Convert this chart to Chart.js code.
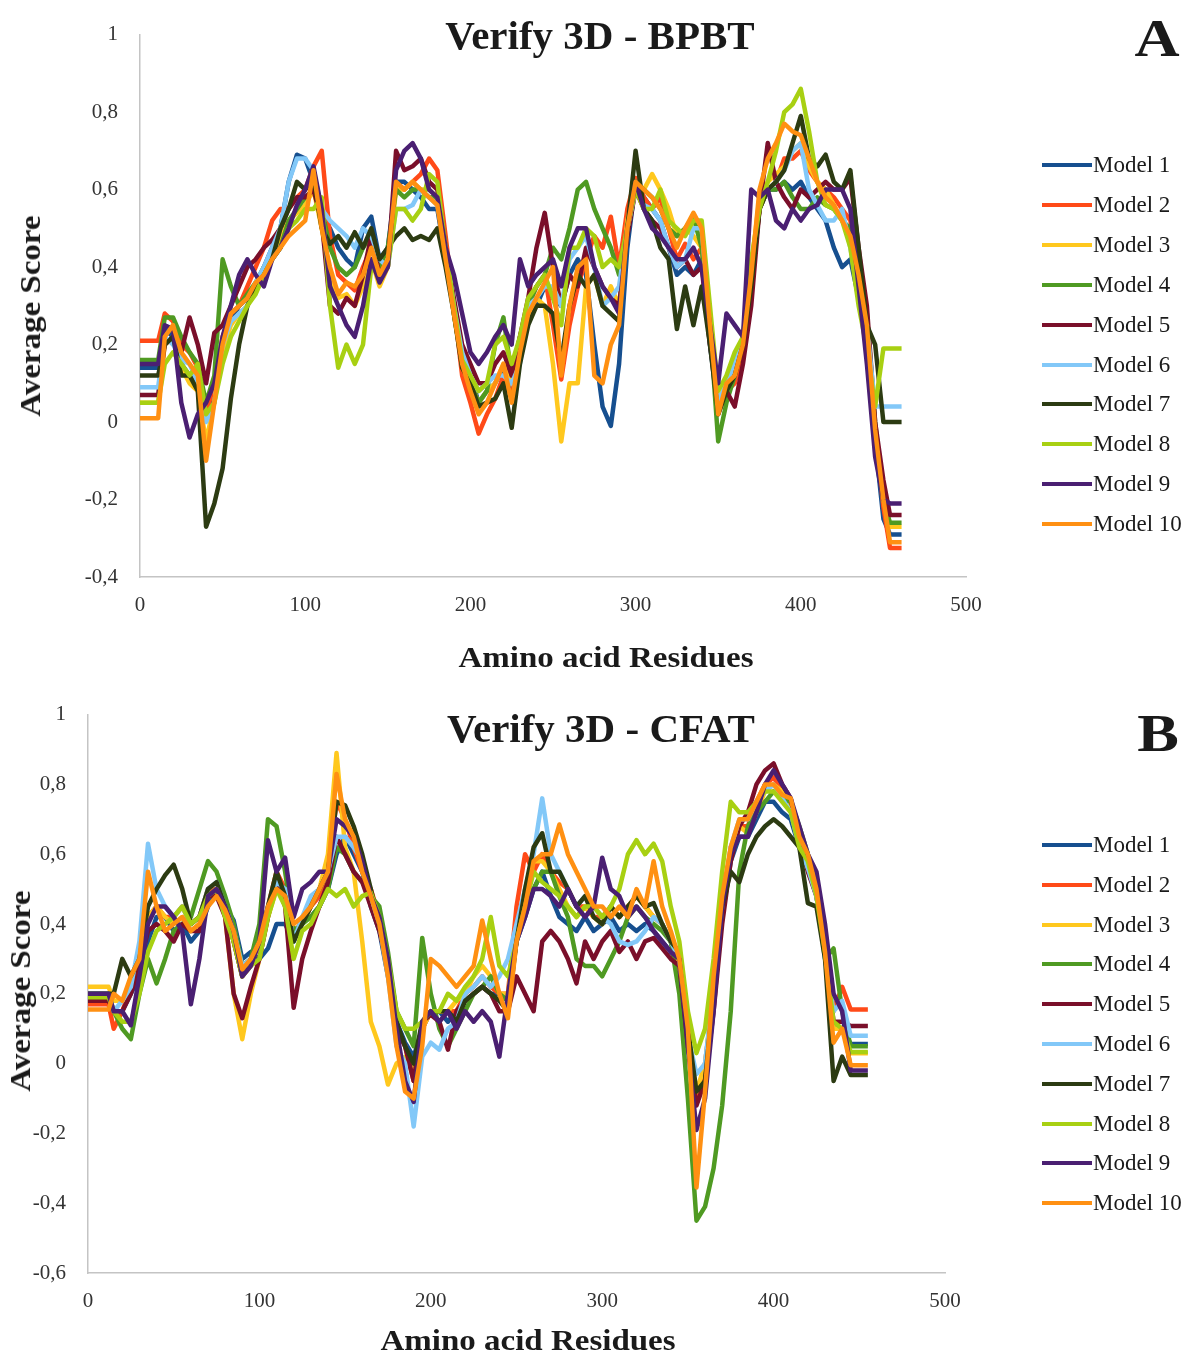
<!DOCTYPE html>
<html>
<head>
<meta charset="utf-8">
<script src="https://cdn.jsdelivr.net/npm/chart.js@4.4.0/dist/chart.umd.min.js"></script>
<style>
    body { margin: 0; background: #fff; }
    #page { position: relative; width: 1192px; height: 1358px; font-family: "Liberation Serif", "Times New Roman", serif; color: #1a1a1a; }
    .panel { position: absolute; left: 0; }
    .txt { position: absolute; transform: translate(-50%, -50%); white-space: nowrap; font-weight: bold; }
    .title { font-size: 41px; }
    .tag { font-size: 52px; transform: translate(-50%, -50%) scaleX(1.2); }
    .axis { font-size: 30px; transform: translate(-50%, -50%) scaleX(1.1); }
    .ytitle { transform: translate(-50%, -50%) rotate(-90deg) scaleX(1.1); }
    .legend-item { position: absolute; left: 1042px; transform: translateY(-50%); display: flex; align-items: center; font-size: 23px; white-space: nowrap; }
    .legend-item span { display: inline-block; width: 50px; height: 4px; margin-right: 1px; }
</style>
</head>
<body>
<div id="page">
    <canvas id="chartA" class="panel" width="1192" height="680" style="top:0"></canvas>
    <canvas id="chartB" class="panel" width="1192" height="678" style="top:680px"></canvas>

    <div class="txt title" style="left:600px; top:35px">Verify 3D - BPBT</div>
    <div class="txt tag" style="left:1157px; top:38px">A</div>
    <div class="txt axis ytitle" style="left:30px; top:316px">Average Score</div>
    <div class="txt axis" style="left:606px; top:657px">Amino acid Residues</div>

    <div class="txt title" style="left:601px; top:728px">Verify 3D - CFAT</div>
    <div class="txt tag" style="left:1158px; top:733px">B</div>
    <div class="txt axis ytitle" style="left:20px; top:991px">Average Score</div>
    <div class="txt axis" style="left:528px; top:1340px">Amino acid Residues</div>
</div>

<script>
// Series names and colours
const modelNames = ['Model 1', 'Model 2', 'Model 3', 'Model 4', 'Model 5',
                    'Model 6', 'Model 7', 'Model 8', 'Model 9', 'Model 10'];
const modelColors = ['#164f8f', '#ff4a18', '#ffc81e', '#4f9a22', '#7a0f2a',
                     '#82c8f8', '#2c3b12', '#a8d012', '#4a1f72', '#ff9012'];

// Panel A - BPBT (residue positions, then one row of 10 values per line)
const residuesA = [0, 11, 15, 20, 25, 30, 35, 40, 45, 50,
                   55, 60, 65, 70, 75, 80, 85, 90, 95, 100,
                   105, 110, 115, 120, 125, 130, 135, 140, 145, 150,
                   155, 160, 165, 170, 175, 180, 185, 190, 195, 200,
                   205, 210, 215, 220, 225, 230, 235, 240, 245, 250,
                   255, 260, 265, 270, 275, 280, 285, 290, 295, 300,
                   305, 310, 315, 320, 325, 330, 335, 340, 345, 350,
                   355, 360, 365, 370, 375, 380, 385, 390, 395, 400,
                   405, 410, 415, 420, 425, 430, 435, 440, 445, 450,
                   454, 461];
const bpbt1 = [0.14, 0.14, 0.24, 0.22, 0.15, 0.12, 0.1, 0.04, 0.06, 0.2,
               0.26, 0.3, 0.32, 0.35, 0.4, 0.45, 0.5, 0.62, 0.69, 0.68,
               0.62, 0.52, 0.5, 0.45, 0.42, 0.4, 0.5, 0.53, 0.42, 0.45,
               0.62, 0.62, 0.6, 0.58, 0.55, 0.55, 0.42, 0.3, 0.18, 0.12,
               0.05, 0.08, 0.1, 0.14, 0.06, 0.18, 0.28, 0.3, 0.35, 0.32,
               0.3, 0.38, 0.42, 0.38, 0.2, 0.04, -0.01, 0.15, 0.45, 0.62,
               0.58, 0.55, 0.52, 0.45, 0.38, 0.4, 0.38, 0.42, 0.2, 0.03,
               0.08, 0.12, 0.2, 0.38, 0.55, 0.6, 0.6, 0.62, 0.6, 0.62,
               0.58, 0.55, 0.52, 0.45, 0.4, 0.42, 0.32, 0.2, -0.05, -0.25,
               -0.29, -0.29];
const bpbt2 = [0.21, 0.21, 0.28, 0.26, 0.2, 0.18, 0.14, 0.02, 0.1, 0.22,
               0.28, 0.3, 0.35, 0.4, 0.45, 0.52, 0.55, 0.55, 0.58, 0.6,
               0.66, 0.7, 0.48, 0.38, 0.36, 0.34, 0.4, 0.45, 0.38, 0.4,
               0.62, 0.6, 0.62, 0.64, 0.68, 0.65, 0.48, 0.3, 0.12, 0.05,
               -0.03, 0.02, 0.06, 0.12, 0.06, 0.2, 0.3, 0.35, 0.38, 0.25,
               0.11, 0.25, 0.35, 0.42, 0.48, 0.45, 0.53, 0.4, 0.55, 0.63,
               0.58, 0.55, 0.58, 0.5, 0.42, 0.46, 0.42, 0.45, 0.25, 0.02,
               0.08, 0.1, 0.18, 0.35, 0.55, 0.6, 0.62, 0.68, 0.68, 0.7,
               0.65, 0.62, 0.6, 0.58, 0.55, 0.52, 0.4, 0.25, -0.02, -0.22,
               -0.325, -0.325];
const bpbt3 = [0.05, 0.05, 0.2, 0.22, 0.14, 0.1, 0.08, -0.05, 0.05, 0.18,
               0.25, 0.28, 0.3, 0.35, 0.38, 0.42, 0.48, 0.52, 0.54, 0.56,
               0.6, 0.5, 0.38, 0.32, 0.33, 0.3, 0.35, 0.42, 0.35, 0.4,
               0.6, 0.6, 0.62, 0.6, 0.6, 0.58, 0.42, 0.28, 0.15, 0.1,
               0.05, 0.08, 0.1, 0.15, 0.1, 0.2, 0.28, 0.32, 0.3, 0.15,
               -0.05, 0.1, 0.1, 0.35, 0.38, 0.3, 0.35, 0.3, 0.52, 0.62,
               0.6, 0.64, 0.6, 0.55, 0.48, 0.5, 0.48, 0.45, 0.25, 0.05,
               0.1, 0.15, 0.22, 0.4, 0.58, 0.62, 0.64, 0.66, 0.7, 0.72,
               0.66, 0.62, 0.6, 0.56, 0.52, 0.48, 0.36, 0.24, -0.05, -0.2,
               -0.27, -0.27];
const bpbt4 = [0.16, 0.16, 0.27, 0.27, 0.22, 0.18, 0.15, 0.05, 0.12, 0.42,
               0.35, 0.3, 0.33, 0.36, 0.4, 0.42, 0.45, 0.52, 0.55, 0.58,
               0.6, 0.55, 0.45, 0.4, 0.38, 0.4, 0.45, 0.48, 0.4, 0.45,
               0.6, 0.58, 0.6, 0.6, 0.58, 0.58, 0.45, 0.28, 0.15, 0.1,
               0.05, 0.08, 0.2, 0.27, 0.12, 0.22, 0.3, 0.35, 0.38, 0.45,
               0.42, 0.5, 0.6, 0.62, 0.55, 0.5, 0.45, 0.38, 0.5, 0.62,
               0.6, 0.58, 0.55, 0.5, 0.48, 0.5, 0.53, 0.45, 0.25, -0.05,
               0.05, 0.12, 0.22, 0.38, 0.55, 0.6, 0.6, 0.62, 0.58, 0.55,
               0.55, 0.58, 0.56, 0.55, 0.52, 0.5, 0.4, 0.28, 0.0, -0.2,
               -0.26, -0.26];
const bpbt5 = [0.07, 0.07, 0.2, 0.22, 0.18, 0.27, 0.2, 0.1, 0.23, 0.25,
               0.3, 0.35, 0.4, 0.42, 0.45, 0.47, 0.5, 0.55, 0.58, 0.58,
               0.6, 0.52, 0.3, 0.28, 0.32, 0.3, 0.38, 0.48, 0.38, 0.4,
               0.7, 0.65, 0.66, 0.68, 0.62, 0.6, 0.45, 0.32, 0.2, 0.15,
               0.1, 0.1, 0.15, 0.18, 0.12, 0.22, 0.32, 0.45, 0.54, 0.4,
               0.3, 0.38, 0.35, 0.45, 0.4, 0.35, 0.32, 0.3, 0.48, 0.6,
               0.55, 0.52, 0.5, 0.45, 0.4, 0.42, 0.38, 0.4, 0.2, 0.05,
               0.08, 0.04, 0.15, 0.3, 0.55, 0.72, 0.62, 0.58, 0.55, 0.6,
               0.58, 0.6, 0.62, 0.6, 0.6, 0.63, 0.45, 0.3, 0.0, -0.15,
               -0.24, -0.24];
const bpbt6 = [0.09, 0.09, 0.22, 0.2, 0.16, 0.15, 0.1, 0.0, 0.05, 0.2,
               0.26, 0.28, 0.3, 0.36, 0.4, 0.45, 0.5, 0.62, 0.68, 0.68,
               0.65, 0.55, 0.52, 0.5, 0.48, 0.45, 0.5, 0.48, 0.42, 0.4,
               0.55, 0.55, 0.56, 0.6, 0.58, 0.56, 0.45, 0.3, 0.18, 0.12,
               0.08, 0.1, 0.12, 0.12, 0.1, 0.15, 0.3, 0.32, 0.35, 0.35,
               0.3, 0.42, 0.45, 0.48, 0.4, 0.3, 0.32, 0.35, 0.5, 0.6,
               0.56, 0.55, 0.52, 0.45, 0.4, 0.42, 0.5, 0.5, 0.25, 0.05,
               0.1, 0.15, 0.22, 0.38, 0.56, 0.6, 0.62, 0.65, 0.7, 0.72,
               0.6, 0.56, 0.52, 0.52, 0.55, 0.45, 0.32, 0.25, 0.04, 0.04,
               0.04, 0.04];
const bpbt7 = [0.12, 0.12, 0.2, 0.22, 0.12, 0.12, 0.08, -0.27, -0.21, -0.12,
               0.06, 0.2, 0.3, 0.35, 0.38, 0.42, 0.5, 0.55, 0.62, 0.6,
               0.63, 0.5, 0.46, 0.48, 0.45, 0.49, 0.45, 0.5, 0.42, 0.45,
               0.48, 0.5, 0.47, 0.48, 0.47, 0.5, 0.4, 0.28, 0.14, 0.1,
               0.04, 0.05, 0.06, 0.1, -0.015, 0.15, 0.25, 0.3, 0.3, 0.28,
               0.16, 0.3, 0.38, 0.35, 0.38, 0.3, 0.28, 0.26, 0.5, 0.7,
               0.55, 0.52, 0.45, 0.42, 0.24, 0.35, 0.25, 0.35, 0.2, 0.02,
               0.08, 0.12, 0.2, 0.35, 0.55, 0.6, 0.62, 0.65, 0.72, 0.79,
               0.68, 0.66, 0.69, 0.62, 0.6, 0.65, 0.45, 0.25, 0.2, 0.0,
               0.0, 0.0];
const bpbt8 = [0.05, 0.05, 0.15, 0.18, 0.15, 0.12, 0.15, 0.02, 0.05, 0.15,
               0.22, 0.26, 0.3, 0.33, 0.38, 0.42, 0.45, 0.5, 0.52, 0.55,
               0.55, 0.58, 0.3, 0.14, 0.2, 0.15, 0.2, 0.4, 0.38, 0.4,
               0.55, 0.55, 0.52, 0.55, 0.64, 0.62, 0.45, 0.3, 0.16, 0.12,
               0.08, 0.1, 0.2, 0.22, 0.15, 0.22, 0.32, 0.35, 0.38, 0.32,
               0.25, 0.45, 0.45, 0.5, 0.48, 0.4, 0.42, 0.4, 0.5, 0.6,
               0.55, 0.55, 0.6, 0.52, 0.5, 0.48, 0.52, 0.52, 0.3, 0.08,
               0.12, 0.18, 0.22, 0.42, 0.55, 0.62, 0.7, 0.8, 0.82, 0.86,
               0.75, 0.62, 0.56, 0.55, 0.52, 0.45, 0.3, 0.19, 0.04, 0.19,
               0.19, 0.19];
const bpbt9 = [0.15, 0.15, 0.25, 0.24, 0.05, -0.04, 0.02, 0.05, 0.1, 0.22,
               0.3, 0.38, 0.42, 0.38, 0.35, 0.42, 0.45, 0.5, 0.56, 0.6,
               0.66, 0.55, 0.35, 0.3, 0.25, 0.22, 0.3, 0.42, 0.36, 0.4,
               0.65, 0.7, 0.72, 0.68, 0.6, 0.58, 0.45, 0.38, 0.28, 0.18,
               0.15, 0.18, 0.22, 0.25, 0.2, 0.42, 0.35, 0.38, 0.4, 0.42,
               0.35, 0.45, 0.5, 0.5, 0.4, 0.35, 0.32, 0.28, 0.5, 0.62,
               0.55, 0.5, 0.48, 0.45, 0.42, 0.42, 0.45, 0.4, 0.25, 0.1,
               0.28, 0.25, 0.22, 0.6, 0.58, 0.6, 0.52, 0.5, 0.55, 0.52,
               0.55, 0.56, 0.6, 0.6, 0.6, 0.55, 0.35, 0.15, -0.09, -0.2,
               -0.21, -0.21];
const bpbt10 = [0.01, 0.01, 0.22, 0.25, 0.18, 0.15, 0.12, -0.1, 0.05, 0.2,
                0.28, 0.3, 0.32, 0.36, 0.38, 0.42, 0.45, 0.48, 0.5, 0.52,
                0.65, 0.5, 0.4, 0.33, 0.36, 0.35, 0.38, 0.45, 0.38, 0.42,
                0.62, 0.6, 0.62, 0.6, 0.58, 0.56, 0.42, 0.28, 0.15, 0.08,
                0.02, 0.05, 0.1, 0.15, 0.05, 0.18, 0.28, 0.32, 0.36, 0.4,
                0.12, 0.3, 0.4, 0.42, 0.12, 0.1, 0.2, 0.25, 0.5, 0.62,
                0.6, 0.58, 0.55, 0.5, 0.45, 0.5, 0.54, 0.5, 0.25, 0.02,
                0.1, 0.12, 0.2, 0.38, 0.6, 0.68, 0.72, 0.77, 0.75, 0.74,
                0.68, 0.62, 0.58, 0.56, 0.52, 0.48, 0.38, 0.25, -0.02, -0.2,
                -0.31, -0.31];

// Panel B - CFAT
const residuesB = [0, 12, 15, 20, 25, 30, 35, 40, 45, 50,
                   55, 60, 65, 70, 75, 80, 85, 90, 95, 100,
                   105, 110, 115, 120, 125, 130, 135, 140, 145, 150,
                   155, 160, 165, 170, 175, 180, 185, 190, 195, 200,
                   205, 210, 215, 220, 225, 230, 235, 240, 245, 250,
                   255, 260, 265, 270, 275, 280, 285, 290, 295, 300,
                   305, 310, 315, 320, 325, 330, 335, 340, 345, 350,
                   355, 360, 365, 370, 375, 380, 385, 390, 395, 400,
                   405, 410, 415, 420, 425, 430, 435, 440,
                   445, 455];
const cfat1 = [0.19, 0.19, 0.15, 0.15, 0.2, 0.25, 0.35, 0.42, 0.42, 0.38,
               0.4, 0.35, 0.38, 0.45, 0.5, 0.45, 0.41, 0.3, 0.32, 0.3,
               0.33, 0.4, 0.4, 0.35, 0.42, 0.42, 0.45, 0.5, 0.6, 0.65,
               0.6, 0.55, 0.45, 0.38, 0.25, 0.12, 0.06, 0.02, 0.1, 0.15,
               0.15, 0.12, 0.15, 0.18, 0.2, 0.22, 0.2, 0.2, 0.18, 0.35,
               0.42, 0.5, 0.55, 0.48, 0.42, 0.4, 0.38, 0.42, 0.38, 0.4,
               0.42, 0.38, 0.4, 0.38, 0.4, 0.38, 0.35, 0.32, 0.3, 0.05,
               -0.1, -0.05, 0.2, 0.42, 0.58, 0.65, 0.65, 0.7, 0.75, 0.75,
               0.72, 0.7, 0.62, 0.56, 0.48, 0.32, 0.1, 0.1,
               0.056, 0.056];
const cfat2 = [0.17, 0.17, 0.1, 0.15, 0.22, 0.3, 0.42, 0.45, 0.42, 0.42,
               0.45, 0.4, 0.42, 0.5, 0.5, 0.45, 0.35, 0.25, 0.28, 0.35,
               0.45, 0.55, 0.5, 0.38, 0.4, 0.45, 0.48, 0.55, 0.75, 0.7,
               0.62, 0.55, 0.5, 0.42, 0.3, 0.1, 0.05, -0.05, 0.1, 0.15,
               0.15, 0.15, 0.15, 0.2, 0.22, 0.25, 0.22, 0.2, 0.2, 0.45,
               0.6, 0.55, 0.6, 0.55, 0.52, 0.5, 0.45, 0.45, 0.42, 0.42,
               0.45, 0.42, 0.45, 0.48, 0.45, 0.42, 0.4, 0.35, 0.3, 0.1,
               -0.1, 0.0, 0.2, 0.45, 0.62, 0.68, 0.68, 0.75, 0.8, 0.82,
               0.78, 0.75, 0.65, 0.58, 0.5, 0.35, 0.15, 0.22,
               0.155, 0.155];
const cfat3 = [0.22, 0.22, 0.18, 0.18, 0.22, 0.3, 0.42, 0.45, 0.42, 0.4,
               0.42, 0.38, 0.4, 0.48, 0.5, 0.42, 0.2, 0.07, 0.2, 0.3,
               0.42, 0.5, 0.48, 0.38, 0.4, 0.45, 0.5, 0.6, 0.89, 0.62,
               0.55, 0.35, 0.12, 0.05, -0.06, 0.0, 0.02, -0.02, 0.1, 0.15,
               0.15, 0.15, 0.18, 0.2, 0.25, 0.28, 0.25, 0.2, 0.2, 0.38,
               0.5, 0.58, 0.58, 0.55, 0.5, 0.45, 0.42, 0.45, 0.42, 0.4,
               0.45, 0.42, 0.45, 0.48, 0.45, 0.42, 0.4, 0.35, 0.28, 0.08,
               -0.08, 0.0, 0.2, 0.45, 0.6, 0.68, 0.66, 0.72, 0.78, 0.8,
               0.78, 0.74, 0.64, 0.58, 0.5, 0.35, 0.1, 0.1,
               0.03, 0.03];
const cfat4 = [0.2, 0.2, 0.15, 0.1, 0.07, 0.2, 0.3, 0.23, 0.3, 0.38,
               0.4, 0.42, 0.5, 0.58, 0.55, 0.48, 0.4, 0.28, 0.3, 0.4,
               0.7, 0.68, 0.55, 0.38, 0.4, 0.42, 0.45, 0.5, 0.62, 0.6,
               0.55, 0.52, 0.48, 0.45, 0.32, 0.15, 0.1, 0.05, 0.36, 0.2,
               0.1, 0.05, 0.1, 0.15, 0.2, 0.22, 0.25, 0.2, 0.18, 0.35,
               0.45, 0.5, 0.55, 0.55, 0.48, 0.42, 0.3, 0.28, 0.28, 0.25,
               0.3, 0.35, 0.42, 0.45, 0.42, 0.4, 0.38, 0.35, 0.2, -0.1,
               -0.45, -0.41, -0.3, -0.12, 0.15, 0.55, 0.68, 0.72, 0.75, 0.78,
               0.76, 0.75, 0.68, 0.6, 0.5, 0.3, 0.33, 0.15,
               0.05, 0.05];
const cfat5 = [0.18, 0.18, 0.15, 0.15, 0.2, 0.28, 0.38, 0.4, 0.38, 0.35,
               0.4, 0.38, 0.38, 0.48, 0.48, 0.42, 0.2, 0.13, 0.22, 0.3,
               0.42, 0.52, 0.45, 0.16, 0.3, 0.38, 0.45, 0.52, 0.65, 0.6,
               0.55, 0.52, 0.45, 0.38, 0.28, 0.1, 0.05, -0.05, 0.12, 0.14,
               0.12, 0.04, 0.15, 0.18, 0.2, 0.22, 0.2, 0.15, 0.15, 0.25,
               0.2, 0.15, 0.35, 0.38, 0.35, 0.3, 0.23, 0.35, 0.3, 0.35,
               0.38, 0.32, 0.35, 0.3, 0.35, 0.36, 0.33, 0.3, 0.28, 0.05,
               -0.12, -0.05, 0.15, 0.4, 0.58, 0.68, 0.72, 0.8, 0.84, 0.86,
               0.8, 0.76, 0.64, 0.55, 0.48, 0.32, 0.12, 0.12,
               0.108, 0.108];
const cfat6 = [0.2, 0.2, 0.15, 0.18, 0.22, 0.35, 0.63, 0.5, 0.45, 0.42,
               0.45, 0.4, 0.42, 0.5, 0.52, 0.45, 0.38, 0.28, 0.3, 0.35,
               0.45, 0.52, 0.5, 0.35, 0.42, 0.48, 0.5, 0.55, 0.65, 0.65,
               0.62, 0.58, 0.48, 0.4, 0.25, 0.05, 0.0, -0.18, 0.02, 0.06,
               0.04, 0.1, 0.12, 0.2, 0.22, 0.25, 0.22, 0.25, 0.3, 0.4,
               0.5, 0.6, 0.76, 0.6, 0.55, 0.5, 0.45, 0.48, 0.45, 0.42,
               0.4, 0.35, 0.34, 0.35, 0.38, 0.42, 0.4, 0.35, 0.3, 0.08,
               -0.03, 0.0, 0.22, 0.45, 0.62, 0.7, 0.7, 0.75, 0.78, 0.8,
               0.76, 0.72, 0.62, 0.56, 0.48, 0.3, 0.15, 0.18,
               0.08, 0.08];
const cfat7 = [0.2, 0.2, 0.2, 0.3, 0.25, 0.3, 0.45, 0.5, 0.54, 0.57,
               0.5, 0.4, 0.42, 0.5, 0.52, 0.45, 0.35, 0.25, 0.3, 0.35,
               0.45, 0.55, 0.48, 0.35, 0.4, 0.45, 0.5, 0.55, 0.75, 0.74,
               0.68, 0.6, 0.5, 0.4, 0.28, 0.12, 0.05, 0.0, 0.12, 0.15,
               0.15, 0.15, 0.12, 0.18, 0.2, 0.22, 0.2, 0.18, 0.15, 0.35,
               0.5, 0.62, 0.66, 0.55, 0.55, 0.5, 0.45, 0.48, 0.42, 0.4,
               0.45, 0.42, 0.45, 0.48, 0.45, 0.46, 0.4, 0.35, 0.32, 0.1,
               -0.08, -0.05, 0.2, 0.45, 0.55, 0.52, 0.6, 0.65, 0.68, 0.7,
               0.68, 0.65, 0.62, 0.46, 0.45, 0.3, -0.05, 0.02,
               -0.033, -0.033];
const cfat8 = [0.19, 0.19, 0.15, 0.12, 0.12, 0.2, 0.32, 0.38, 0.4, 0.42,
               0.45, 0.4, 0.42, 0.48, 0.5, 0.42, 0.35, 0.25, 0.28, 0.3,
               0.42, 0.5, 0.45, 0.3, 0.38, 0.4, 0.45, 0.5, 0.48, 0.5,
               0.45, 0.48, 0.49, 0.42, 0.3, 0.15, 0.1, 0.1, 0.12, 0.15,
               0.15, 0.2, 0.18, 0.22, 0.25, 0.3, 0.42, 0.28, 0.25, 0.35,
               0.45, 0.55, 0.52, 0.5, 0.48, 0.45, 0.42, 0.45, 0.45, 0.42,
               0.45, 0.5, 0.6, 0.64, 0.6, 0.63, 0.58, 0.45, 0.35, 0.15,
               0.03, 0.1, 0.3, 0.55, 0.75, 0.72, 0.72, 0.75, 0.78, 0.78,
               0.75, 0.72, 0.62, 0.58, 0.48, 0.32, 0.12, 0.1,
               0.033, 0.033];
const cfat9 = [0.2, 0.2, 0.15, 0.15, 0.11, 0.25, 0.4, 0.45, 0.45, 0.42,
               0.38, 0.17, 0.3, 0.48, 0.5, 0.45, 0.38, 0.25, 0.28, 0.35,
               0.64, 0.55, 0.59, 0.42, 0.5, 0.52, 0.55, 0.55, 0.7, 0.68,
               0.65, 0.58, 0.48, 0.42, 0.3, 0.1, -0.05, -0.11, 0.12, 0.15,
               0.12, 0.15, 0.1, 0.15, 0.12, 0.15, 0.12, 0.02, 0.2, 0.35,
               0.42, 0.5, 0.5, 0.48, 0.45, 0.5, 0.45, 0.42, 0.45, 0.59,
               0.5, 0.48, 0.42, 0.45, 0.42, 0.38, 0.35, 0.32, 0.3, 0.05,
               -0.19, -0.1, 0.15, 0.45, 0.6, 0.65, 0.65, 0.72, 0.8, 0.84,
               0.8, 0.76, 0.68, 0.6, 0.55, 0.4, 0.2, 0.15,
               -0.02, -0.02];
const cfat10 = [0.155, 0.155, 0.2, 0.18, 0.25, 0.3, 0.55, 0.45, 0.38, 0.4,
                0.42, 0.38, 0.4, 0.45, 0.48, 0.44, 0.38, 0.27, 0.3, 0.35,
                0.45, 0.5, 0.48, 0.4, 0.42, 0.45, 0.5, 0.55, 0.83, 0.7,
                0.65, 0.55, 0.48, 0.4, 0.25, 0.05, -0.08, -0.1, 0.05, 0.3,
                0.28, 0.25, 0.22, 0.25, 0.28, 0.41, 0.3, 0.2, 0.13, 0.35,
                0.45, 0.58, 0.6, 0.6, 0.685, 0.6, 0.55, 0.5, 0.45, 0.45,
                0.42, 0.45, 0.42, 0.5, 0.45, 0.58, 0.45, 0.38, 0.3, 0.1,
                -0.355, -0.08, 0.25, 0.48, 0.62, 0.7, 0.7, 0.75, 0.8, 0.8,
                0.77, 0.76, 0.65, 0.6, 0.5, 0.32, 0.06, 0.1,
                -0.005, -0.005];

const seriesA = [bpbt1, bpbt2, bpbt3, bpbt4, bpbt5, bpbt6, bpbt7, bpbt8, bpbt9, bpbt10];
const seriesB = [cfat1, cfat2, cfat3, cfat4, cfat5, cfat6, cfat7, cfat8, cfat9, cfat10];

const tickFont = { family: '"Liberation Serif", "Times New Roman", serif', size: 21 };

function commaLabel(value) {
    return String(Math.round(value * 10) / 10).replace('.', ',');
}

function buildChart(canvasId, residues, series, yMin, yMax, padding, yWidth) {
    const ctx = document.getElementById(canvasId).getContext('2d');
    return new Chart(ctx, {
        type: 'line',
        data: {
            datasets: series.map((values, i) => ({
                label: modelNames[i],
                data: residues.map((r, j) => ({ x: r, y: values[j] })),
                borderColor: modelColors[i],
                backgroundColor: modelColors[i],
                borderWidth: 4.5,
                borderJoinStyle: 'round',
                pointRadius: 0,
                tension: 0,
                fill: false,
                order: 10 - i   // Model 10 ends up on top, as in the original
            }))
        },
        options: {
            responsive: false,
            animation: false,
            devicePixelRatio: 1,
            layout: { padding: padding },
            plugins: {
                legend: { display: false },
                tooltip: { enabled: false }
            },
            scales: {
                x: {
                    type: 'linear',
                    min: 0,
                    max: 500,
                    afterFit: scale => { scale.height = 40; },
                    grid: { display: false, drawTicks: false },
                    border: { display: true, color: '#c4c4c4', width: 1.5 },
                    ticks: { stepSize: 100, padding: 16, color: '#333', font: tickFont, maxRotation: 0 }
                },
                y: {
                    min: yMin,
                    max: yMax,
                    afterFit: scale => { scale.width = yWidth; },
                    grid: { display: false, drawTicks: false },
                    border: { display: true, color: '#c4c4c4', width: 1.5 },
                    ticks: { stepSize: 0.2, padding: 22, color: '#333', font: tickFont, callback: commaLabel }
                }
            }
        }
    });
}

buildChart('chartA', residuesA, seriesA, -0.4, 1, { left: 40, right: 226, top: 18, bottom: 63 }, 100);
buildChart('chartB', residuesB, seriesB, -0.6, 1, { left: 8, right: 247, top: 29, bottom: 45 }, 80);

// Legends
const page = document.getElementById('page');
function addLegend(firstY, gap) {
    modelNames.forEach((name, i) => {
        const item = document.createElement('div');
        item.className = 'legend-item';
        item.style.top = (firstY + i * gap) + 'px';
        const swatch = document.createElement('span');
        swatch.style.background = modelColors[i];
        item.appendChild(swatch);
        item.appendChild(document.createTextNode(name));
        page.appendChild(item);
    });
}
addLegend(165, 39.9);
addLegend(845, 39.8);
</script>
</body>
</html>
